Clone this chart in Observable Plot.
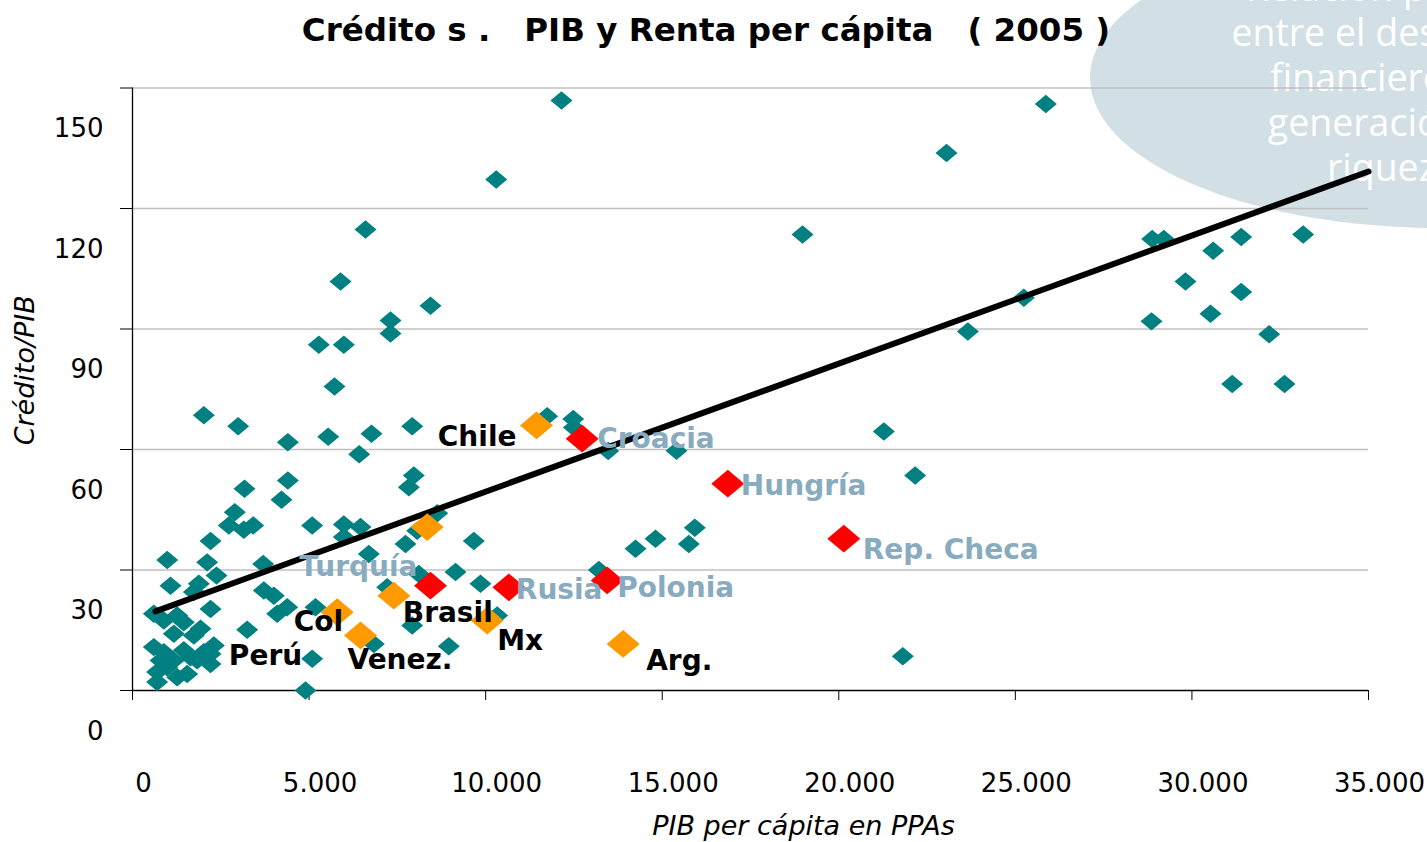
<!DOCTYPE html>
<html>
<head>
<meta charset="utf-8">
<script src="https://cdn.jsdelivr.net/npm/d3@7"></script>
<script src="https://cdn.jsdelivr.net/npm/@observablehq/plot@0.6"></script>
<style>
html, body { margin: 0; padding: 0; background: #ffffff; overflow: hidden; }
#wrap { position: relative; width: 1427px; height: 842px; overflow: hidden; }
#bubble { position: absolute; left: 1090px; top: -72px; width: 700px; height: 300px; border-radius: 50%; background: #d2dfe5; z-index: 0; }
#bubbleText { position: absolute; left: 1192px; top: -36px; width: 400px; text-align: center; color: #ffffff;
  font-family: "Open Sans", sans-serif; font-size: 37.5px; line-height: 45px; z-index: 0; white-space: nowrap; }
#title { position: absolute; left: 0; top: 0; width: 1412px; height: 60px; line-height: 60px; text-align: center;
  font-family: "DejaVu Sans", sans-serif; font-weight: bold; font-size: 32.5px; color: #000; white-space: pre; z-index: 2; }
#chart { position: absolute; left: 0; top: 60px; z-index: 1; }
</style>
</head>
<body>
<div id="wrap">
  <div id="bubble"></div>
  <div id="bubbleText">Relación positiva<br>entre el desarrollo<br>financiero y la<br>generación de<br>riqueza</div>
  <div id="title">Crédito s .   PIB y Renta per cápita   ( 2005 )</div>
  <div id="chart"></div>
</div>
<script>
// ---------- DATA ----------
const tealX = [12148,25862,23050,10300,6598,18973,28875,29204,31395,33150,30602,5890,29818,31395,25240,8438,30526,7306,28855,23655,7306,32187,5276,5984,31140,32622,5720,
  2020,11743,12480,2992,7920,12498,21276,6768,5541,4399,15405,13470,6419,22163,7966,4399,7825,3171,4219,2897,8628,3417,2727,5088,5984,6456,15923,3152,8061,5984,14810,2209,9665,7731,15753,14244,6692,
  982,2114,3700,13206,9147,8108,2379,1076,1878,7212,9854,1736,3719,4002,4380,2209,5182,4097,604,1264,10327,887,1453,7920,1926,3247,1170,1736,6833,2303,8957,604,1453,887,2019,2209,21813,1642,5088,793,1170,1831,2209,982,698,1548,1264,698,4899];
const tealY = [146.9,146.0,133.8,127.2,114.8,113.5,112.4,112.4,112.9,113.5,109.5,101.8,101.8,99.2,97.8,95.8,93.8,92.1,91.9,89.4,88.9,88.7,86.1,86.1,76.3,76.3,75.7,
  68.5,68.3,67.6,65.8,65.8,65.5,64.5,63.9,63.2,61.8,59.7,59.6,58.8,53.5,53.5,52.3,50.6,50.2,47.5,44.4,44.1,41.1,41.1,41.1,41.3,40.7,40.5,40.0,39.8,38.2,37.8,37.2,37.2,36.5,36.5,35.3,34.0,
  32.5,31.9,31.5,30.0,29.5,29.0,28.6,26.1,26.6,25.7,26.6,24.5,24.9,23.6,20.7,20.3,20.7,19.1,19.1,18.7,18.7,17.4,17.0,16.2,15.4,15.1,14.1,13.7,11.6,11.2,11.0,10.8,10.0,9.5,9.5,9.1,8.5,8.3,7.9,7.5,7.5,7.5,6.6,5.8,4.6,4.1,3.3,2.1,0];

const hlNames = ["Chile","Col","Venez.","Brasil","Mx","Arg.","","Croacia","Hungría","Rep. Checa","Polonia","Rusia","Turquía"];
const hlX     = [11440, 5796, 6456, 7400, 10044, 13894, 8345, 12733, 16858, 20142, 13442, 10657, 8438];
const hlY     = [66.0, 19.5, 13.7, 23.6, 17.4, 11.6, 40.7, 62.7, 51.5, 37.8, 27.4, 25.7, 26.1];
const hlGroup = ["latam","latam","latam","latam","latam","latam","latam","europa","europa","europa","europa","europa","europa"];

const freeLabel = ["Perú"];
const freeLabelX = [3766];
const freeLabelY = [8.7];

const trendX = [651, 35000];
const trendY = [19.7, 129.2];

const xTicks = [0, 5000, 10000, 15000, 20000, 25000, 30000, 35000];
const xTickLabels = ["0", "5.000", "10.000", "15.000", "20.000", "25.000", "30.000", "35.000"];
const yTicks = [0, 30, 60, 90, 120, 150];
const yTickLabels = ["0", "30", "60", "90", "120", "150"];

// ---------- BUILD ----------
const teal = tealX.map((x, i) => ({x, y: tealY[i]}));
const hl = hlX.map((x, i) => ({x, y: hlY[i], name: hlNames[i], group: hlGroup[i]}));
const trend = trendX.map((x, i) => ({x, y: trendY[i]}));
const free = freeLabel.map((t, i) => ({text: t, x: freeLabelX[i], y: freeLabelY[i]}));

const diamond = {
  draw(ctx, size) {
    const r = Math.sqrt(size / Math.PI), h = r * 0.84;
    ctx.moveTo(0, -h); ctx.lineTo(r, 0); ctx.lineTo(0, h); ctx.lineTo(-r, 0); ctx.closePath();
  }
};

const groupColor = {latam: "#ff9900", europa: "#ff0000"};
const labelStyle = {
  "Chile":      {dx: -20, dy: 12, anchor: "end",   fill: "#000"},
  "Col":        {dx: 6,   dy: 10, anchor: "end",   fill: "#000"},
  "Venez.":     {dx: -13, dy: 25, anchor: "start", fill: "#000"},
  "Brasil":     {dx: 9,   dy: 17, anchor: "start", fill: "#000"},
  "Mx":         {dx: 10,  dy: 20, anchor: "start", fill: "#000"},
  "Arg.":       {dx: 23,  dy: 17, anchor: "start", fill: "#000"},
  "Croacia":    {dx: 15,  dy: 0,  anchor: "start", fill: "#88abc0"},
  "Hungría":    {dx: 13,  dy: 2,  anchor: "start", fill: "#88abc0"},
  "Rep. Checa": {dx: 19,  dy: 11, anchor: "start", fill: "#88abc0"},
  "Polonia":    {dx: 10,  dy: 8,  anchor: "start", fill: "#88abc0"},
  "Rusia":      {dx: 7,   dy: 3,  anchor: "start", fill: "#88abc0"},
  "Turquía":    {dx: -13, dy: -19, anchor: "end",  fill: "#88abc0"}
};

const labelMarks = hl.filter(d => d.name).map(d => {
  const s = labelStyle[d.name];
  return Plot.text([d], {x: "x", y: "y", text: "name", dx: s.dx, dy: s.dy, textAnchor: s.anchor,
    fill: s.fill, fontSize: 28, fontWeight: "bold"});
});

const chart = Plot.plot({
  width: 1427,
  height: 782,
  marginLeft: 132,
  marginRight: 59,
  marginTop: 27.5,
  marginBottom: 152,
  style: {background: "transparent", fontFamily: "DejaVu Sans, sans-serif", overflow: "visible"},
  x: {domain: [0, 35000]},
  y: {domain: [0, 150]},
  marks: [
    Plot.ruleY(yTicks.filter(d => d > 0), {stroke: "#c0c0c0", strokeWidth: 1.5}),
    Plot.ruleX([0], {stroke: "#000", strokeWidth: 1.3}),
    Plot.ruleY([0], {stroke: "#000", strokeWidth: 1.3}),
    Plot.axisY(yTicks, {tickSize: 12, tickFormat: () => "", label: null, stroke: "#000"}),
    Plot.axisY(yTicks, {tickSize: 0, tickPadding: 29, dy: 41, fontSize: 26, fill: "#000", label: null,
      tickFormat: (d) => yTickLabels[yTicks.indexOf(d)]}),
    Plot.axisX(xTicks, {tickSize: 10, tickFormat: () => "", label: null, stroke: "#000"}),
    Plot.axisX(xTicks, {tickSize: 0, tickPadding: 83, dx: 11, fontSize: 26, fill: "#000", label: null,
      tickFormat: (d) => xTickLabels[xTicks.indexOf(d)]}),
    Plot.dot(teal, {x: "x", y: "y", symbol: diamond, r: 11, fill: "#008080", stroke: "none"}),
    Plot.line(trend, {x: "x", y: "y", stroke: "#000", strokeWidth: 6}),
    Plot.dot(hl, {x: "x", y: "y", symbol: diamond, r: 16.5, fill: (d) => groupColor[d.group], stroke: "none"}),
    ...labelMarks,
    Plot.text(free, {x: "x", y: "y", text: "text", fontSize: 28, fontWeight: "bold", fill: "#000"}),
    Plot.text(["PIB per cápita en PPAs"], {frameAnchor: "bottom", textAnchor: "middle", dx: 53, dy: 144, fontStyle: "italic", fontSize: 27, fill: "#000"}),
    Plot.text(["Crédito/PIB"], {frameAnchor: "left", textAnchor: "middle", dx: -107, dy: -19, rotate: -90, fontStyle: "italic", fontSize: 27, fill: "#000"})
  ]
});
document.getElementById("chart").appendChild(chart);
</script>
</body>
</html>
